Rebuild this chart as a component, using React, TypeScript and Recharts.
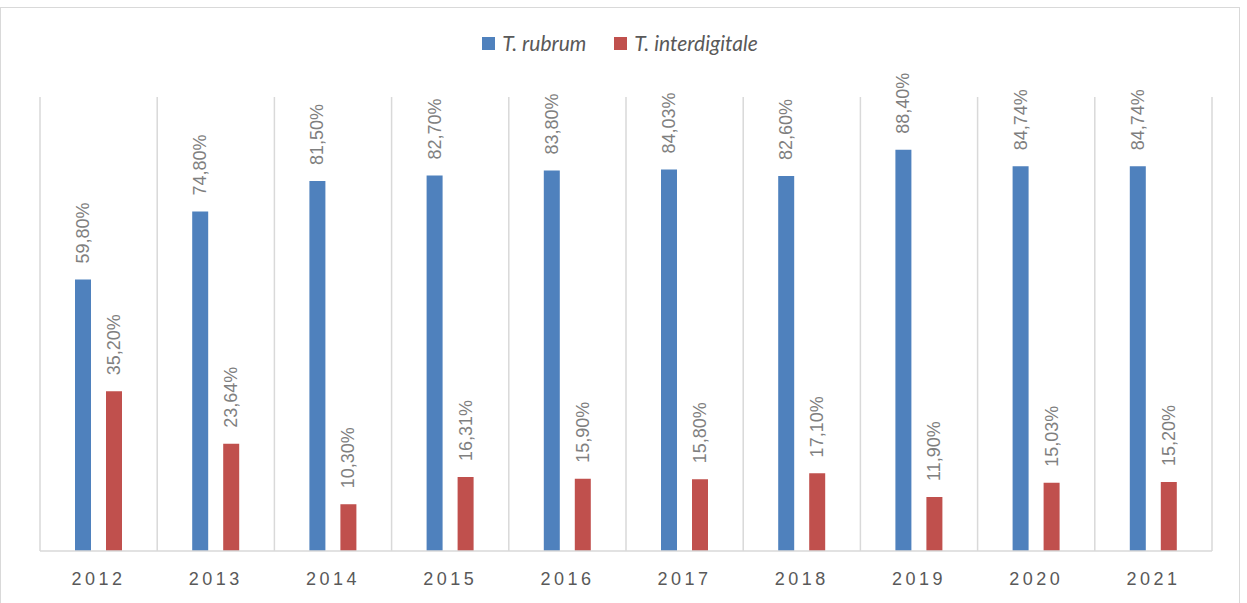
import { BarChart, Bar, XAxis, YAxis, CartesianGrid, LabelList } from "recharts";

const years = ["2012", "2013", "2014", "2015", "2016", "2017", "2018", "2019", "2020", "2021"];
const rubrum = [59.8, 74.8, 81.5, 82.7, 83.8, 84.03, 82.6, 88.4, 84.74, 84.74];
const interdigitale = [35.2, 23.64, 10.3, 16.31, 15.9, 15.8, 17.1, 11.9, 15.03, 15.2];

const BLUE = "#4f81bd";
const RED = "#c0504d";
const GRID = "#d9d9d9";

const data = years.map((year, i) => ({ year, rubrum: rubrum[i], interdigitale: interdigitale[i] }));

const fmt = (v: number) => v.toFixed(2).replace(".", ",") + "%";

const VerticalLabel = (props: any) => {
  const { x, y, width, value } = props;
  const cx = x + width / 2;
  const cy = y - 16;
  return (
    <text
      x={cx}
      y={cy}
      transform={`rotate(-90, ${cx}, ${cy})`}
      textAnchor="start"
      dominantBaseline="central"
      fill="#7f7f7f"
      fontSize={18}
      fontFamily="'Liberation Sans', Arial, sans-serif"
    >
      {fmt(value)}
    </text>
  );
};

const LegendItem = ({ color, label }: { color: string; label: string }) => (
  <div style={{ display: "flex", alignItems: "center", gap: 7 }}>
    <div style={{ width: 13, height: 13, background: color }} />
    <span>{label}</span>
  </div>
);

export default function App() {
  return (
    <div
      style={{
        position: "absolute",
        left: 0,
        top: 7,
        width: 1240,
        height: 596,
        border: `1px solid ${GRID}`,
        borderBottom: "none",
        boxSizing: "border-box",
        background: "#fff",
      }}
    >
      <div
        style={{
          position: "absolute",
          top: 21,
          left: 0,
          width: "100%",
          display: "flex",
          justifyContent: "center",
          gap: 28,
          fontFamily: "Lato, 'Open Sans', sans-serif",
          fontStyle: "italic",
          fontSize: 21,
          color: "#595959",
          lineHeight: "28px",
        }}
      >
        <LegendItem color={BLUE} label="T. rubrum" />
        <LegendItem color={RED} label="T. interdigitale" />
      </div>
      <BarChart
        width={1240}
        height={596}
        data={data}
        margin={{ top: 89, right: 28, bottom: 23, left: 40 }}
        barSize={16}
        barGap={15}
        style={{ position: "absolute", left: -1, top: 0 }}
      >
        <CartesianGrid
          horizontal={false}
          stroke={GRID}
          strokeWidth={1.5}
          verticalCoordinatesGenerator={({ offset }: any) =>
            years.map((_, i) => offset.left + (i * offset.width) / years.length).concat(offset.left + offset.width)
          }
        />
        <YAxis hide domain={[0, 100]} />
        <XAxis
          dataKey="year"
          height={30}
          tickLine={false}
          axisLine={{ stroke: GRID, strokeWidth: 1.5 }}
          tickMargin={15}
          tick={{
            fill: "#595959",
            fontSize: 18,
            fontFamily: "'Liberation Sans', Arial, sans-serif",
            style: { letterSpacing: "3.5px" },
          }}
        />
        <Bar dataKey="rubrum" fill={BLUE} isAnimationActive={false}>
          <LabelList dataKey="rubrum" content={VerticalLabel} />
        </Bar>
        <Bar dataKey="interdigitale" fill={RED} isAnimationActive={false}>
          <LabelList dataKey="interdigitale" content={VerticalLabel} />
        </Bar>
      </BarChart>
    </div>
  );
}
